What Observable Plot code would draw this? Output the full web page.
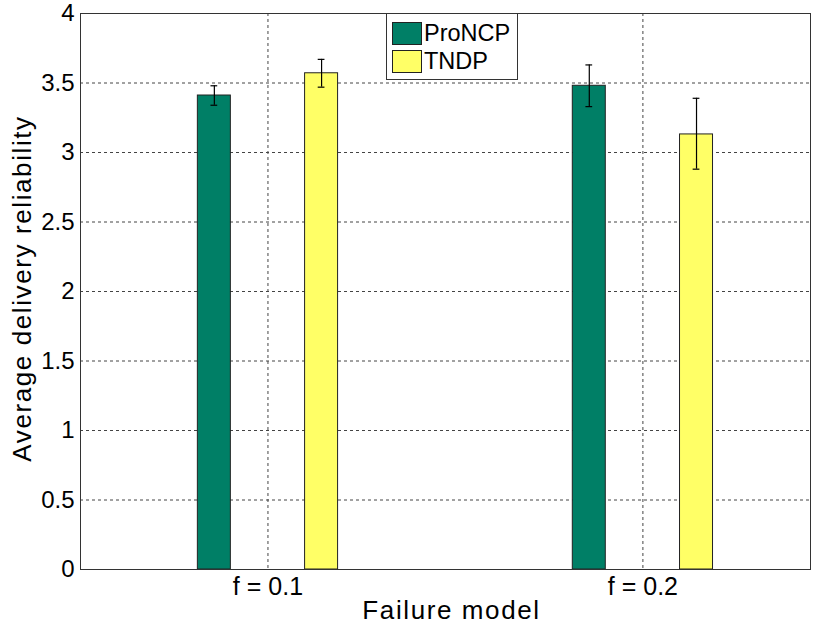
<!DOCTYPE html>
<html><head><meta charset="utf-8">
<script src="https://cdn.jsdelivr.net/npm/d3@7"></script>
<script src="https://cdn.jsdelivr.net/npm/@observablehq/plot@0.6"></script>
<style>
body{margin:0;background:#fff;font-family:"Liberation Sans",Arial,sans-serif}
#wrap{position:relative;width:822px;height:631px}
#legend{position:absolute;left:386px;top:13px;width:132px;height:67px;border:1px solid #333;background:#fff;box-sizing:border-box;font-size:23.5px;color:#000}
#legend .row{position:absolute;left:5px;display:flex;align-items:center}
#legend .sw{width:30px;height:23px;border:1px solid #222;box-sizing:border-box;margin-right:2px}
</style></head><body><div id="wrap"></div>
<script>
const categories = ["f = 0.1", "f = 0.2"];
const series = ["ProNCP", "TNDP"];
const proncpMean = [3.41, 3.48];
const proncpLow = [3.34, 3.33];
const proncpHigh = [3.48, 3.63];
const tndpMean = [3.57, 3.13];
const tndpLow = [3.47, 2.88];
const tndpHigh = [3.67, 3.39];
const yTicks = [0, 0.5, 1, 1.5, 2, 2.5, 3, 3.5, 4];
const colors = ["#007f66", "#ffff66"];
const yTitle = "Average delivery reliability";
const xTitle = "Failure model";

const offset = 0.143, half = 0.044, cap = 0.009;
const rows = [];
categories.forEach((c, i) => {
  rows.push({series: series[0], x: i + 1 - offset, mean: proncpMean[i], lo: proncpLow[i], hi: proncpHigh[i]});
  rows.push({series: series[1], x: i + 1 + offset, mean: tndpMean[i], lo: tndpLow[i], hi: tndpHigh[i]});
});

const chart = Plot.plot({
  width: 822, height: 631,
  marginLeft: 80, marginRight: 12, marginTop: 13, marginBottom: 62,
  style: {fontFamily: '"Liberation Sans", Arial, sans-serif', background: "#fff", color: "#000"},
  x: {domain: [0.5, 2.447]},
  y: {domain: [0, 4]},
  color: {domain: series, range: colors},
  marks: [
    Plot.gridY(yTicks.filter(d => d > 0 && d < 4), {stroke: "#444", strokeOpacity: 1, strokeDasharray: "3,3"}),
    Plot.gridX([1, 2], {stroke: "#444", strokeOpacity: 1, strokeDasharray: "3,3"}),
    Plot.rect(rows, {x1: d => d.x - half, x2: d => d.x + half, y1: 0, y2: "mean", fill: "series", stroke: "#222", strokeWidth: 1}),
    Plot.ruleX(rows, {x: "x", y1: "lo", y2: "hi", stroke: "#000", strokeWidth: 1.2}),
    Plot.ruleY(rows, {y: "lo", x1: d => d.x - cap, x2: d => d.x + cap, stroke: "#000", strokeWidth: 1.2}),
    Plot.ruleY(rows, {y: "hi", x1: d => d.x - cap, x2: d => d.x + cap, stroke: "#000", strokeWidth: 1.2}),
    Plot.axisY({ticks: yTicks, tickFormat: d3.format("~g"), tickSize: 0, tickPadding: 6, fontSize: 24, label: null}),
    Plot.axisX({ticks: [1, 2], tickFormat: d => categories[d - 1], tickSize: 0, tickPadding: 8, fontSize: 25, label: null}),
    Plot.frame({stroke: "#333"}),
    Plot.text([yTitle], {frameAnchor: "left", textAnchor: "middle", lineAnchor: "middle", dx: -58, dy: -3, rotate: -90, fontSize: 26, fill: "#000"}),
    Plot.text([xTitle], {frameAnchor: "bottom", textAnchor: "middle", lineAnchor: "middle", dx: 6, dy: 41, fontSize: 26, fill: "#000"})
  ]
});
d3.select(chart).selectAll("text").filter(function() {
  const t = this.textContent; return t === yTitle || t === xTitle;
}).style("letter-spacing", "1.6px");
const wrap = document.getElementById("wrap");
wrap.appendChild(chart);
const legend = document.createElement("div");
legend.id = "legend";
series.forEach((s, i) => {
  const row = document.createElement("div");
  row.className = "row";
  row.style.top = (6 + i * 28) + "px";
  const sw = document.createElement("div");
  sw.className = "sw";
  sw.style.background = colors[i];
  const t = document.createElement("span");
  t.textContent = s;
  row.appendChild(sw); row.appendChild(t);
  legend.appendChild(row);
});
wrap.appendChild(legend);
</script></body></html>
